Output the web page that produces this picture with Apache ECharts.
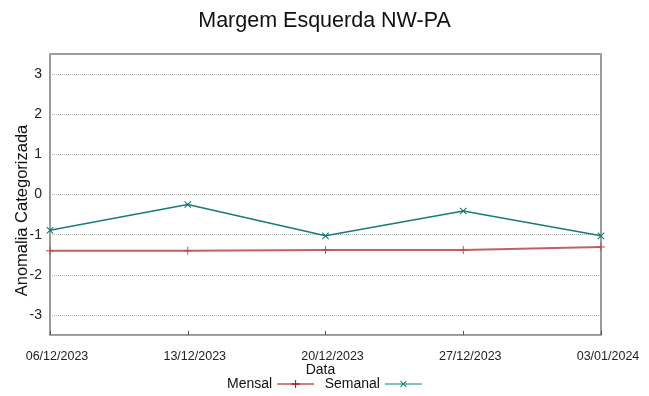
<!DOCTYPE html>
<html>
<head>
<meta charset="utf-8">
<script src="https://cdn.jsdelivr.net/npm/echarts@6/dist/echarts.min.js"></script>
<style>
  html, body { margin: 0; padding: 0; background: #fff; }
  #chart { width: 649px; height: 396px; }
</style>
</head>
<body>
<div id="chart"></div>
<script>
// data
const dates = ['06/12/2023', '13/12/2023', '20/12/2023', '27/12/2023', '03/01/2024'];
const mensal = [-1.40, -1.40, -1.38, -1.38, -1.31];
const semanal = [-0.89, -0.25, -1.03, -0.41, -1.03];

const plusPath = 'path://M4.4,0h1.2v10h-1.2z M0,4.4h10v1.2h-10z';
const font = 'Liberation Sans, Arial, sans-serif';

const chart = echarts.init(document.getElementById('chart'));

const yLabel = function (v) {
  return Math.abs(v - Math.round(v)) < 1e-6 ? String(Math.round(v)) : '';
};

chart.setOption({
  animation: false,
  title: {
    text: 'Margem Esquerda NW-PA',
    left: 'center',
    top: 5,
    textStyle: { fontFamily: font, fontSize: 21.5, fontWeight: 'normal', color: '#111' }
  },
  grid: {
    left: 50,
    right: 48,
    top: 54,
    bottom: 61,
    outerBoundsMode: 'none',
    containLabel: false,
    show: true,
    borderColor: '#7a7a7a',
    borderWidth: 1.5
  },
  legend: {
    left: 227,
    top: 377,
    padding: 0,
    align: 'right',
    itemWidth: 37,
    itemHeight: 10,
    itemGap: 10,
    textStyle: { fontFamily: font, fontSize: 14, color: '#111' },
    data: [
      { name: 'Mensal', itemStyle: { color: '#a00000' }, lineStyle: { color: '#a00000', width: 1 } },
      { name: 'Semanal', itemStyle: { color: '#008080' }, lineStyle: { color: '#008080', width: 1 } }
    ]
  },
  xAxis: {
    type: 'category',
    data: dates,
    boundaryGap: false,
    name: 'Data',
    nameLocation: 'middle',
    nameGap: 28,
    nameMoveOverlap: false,
    nameTextStyle: { fontFamily: font, fontSize: 14, color: '#111', padding: [0, 10, 0, 0] },
    axisLine: { show: false, onZero: false },
    axisTick: { inside: true, length: 4, alignWithLabel: true, lineStyle: { color: '#555' } },
    axisLabel: {
      fontFamily: font,
      fontSize: 12.5,
      color: '#222',
      margin: 15,
      padding: [0, 0, 0, 14]
    },
    splitLine: { show: false }
  },
  yAxis: [
    {
      type: 'value',
      min: -3.5,
      max: 3.5,
      splitNumber: 7,
      name: 'Anomalia Categorizada',
      nameLocation: 'middle',
      nameGap: 19,
      nameMoveOverlap: false,
      nameTextStyle: { fontFamily: font, fontSize: 16.5, color: '#111', padding: [0, 32, 0, 0] },
      axisLine: { show: false },
      axisTick: { inside: true, length: 5, lineStyle: { color: '#000' } },
      axisLabel: { fontFamily: font, fontSize: 14, color: '#222', margin: 8, formatter: yLabel },
      splitLine: { show: true, lineStyle: { color: '#aaa', type: 'dotted', width: 1 } }
    },
    {
      type: 'value',
      min: -3.5,
      max: 3.5,
      splitNumber: 7,
      position: 'right',
      axisLine: { show: false },
      axisTick: { inside: true, length: 5, lineStyle: { color: '#000' } },
      axisLabel: { show: false },
      splitLine: { show: false }
    }
  ],
  series: [
    {
      name: 'Mensal',
      type: 'line',
      data: mensal,
      symbol: plusPath,
      symbolSize: 8,
      showAllSymbol: true,
      itemStyle: { color: '#b94a4a' },
      lineStyle: { color: '#c06262', width: 2 }
    },
    {
      name: 'Semanal',
      type: 'line',
      data: semanal,
      symbol: plusPath,
      symbolRotate: 45,
      symbolSize: 9,
      showAllSymbol: true,
      itemStyle: { color: '#117a7a' },
      lineStyle: { color: '#1a7a7a', width: 1.5 }
    }
  ]
});
</script>
</body>
</html>
